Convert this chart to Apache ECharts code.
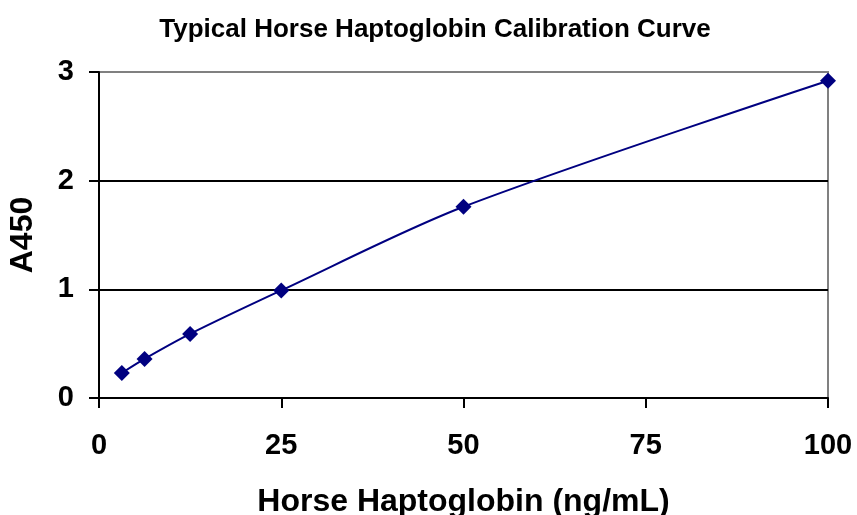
<!DOCTYPE html>
<html><head><meta charset="utf-8">
<script src="https://cdn.jsdelivr.net/npm/echarts@6/dist/echarts.min.js"></script>
<style>html,body{margin:0;padding:0;background:#fff}#c{width:857px;height:515px}</style>
</head><body><div id="c"></div>
<script>
const concentrations = [3.125, 6.25, 12.5, 25, 50, 100];
const absorbance = [0.23, 0.36, 0.59, 0.99, 1.76, 2.92];
const xTicks = [0, 25, 50, 75, 100];
const yTicks = [0, 1, 2, 3];
const titleText = 'Typical Horse Haptoglobin Calibration Curve';
const xTitle = 'Horse Haptoglobin (ng/mL)';
const yTitle = 'A450';

const font = 'Liberation Sans, Arial, sans-serif';
const chart = echarts.init(document.getElementById('c'));
chart.setOption({
  animation: false,
  title: { text: titleText, left: 430, top: 12, textAlign: 'center',
    textStyle: { fontFamily: font, fontWeight: 'bold', fontSize: 26, color: '#000' } },
  grid: { left: 99, right: 29, top: 72, bottom: 117, containLabel: false, outerBoundsMode: 'none',
    show: true, borderColor: '#808080', borderWidth: 2 },
  xAxis: { type: 'value', min: 0, max: 100, interval: 25,
    name: xTitle, nameLocation: 'middle', nameGap: 88,
    nameTextStyle: { fontFamily: font, fontWeight: 'bold', fontSize: 32, color: '#000' },
    axisLine: { show: true, onZero: false, lineStyle: { color: '#000', width: 2 } },
    axisTick: { show: true, inside: false, length: 10, lineStyle: { color: '#000', width: 2 } },
    axisLabel: { margin: 33, fontFamily: font, fontWeight: 'bold', fontSize: 29, color: '#000',
      formatter: v => xTicks.includes(v) ? String(v) : '' },
    splitLine: { show: false } },
  yAxis: { type: 'value', min: 0, max: 3, interval: 1,
    name: yTitle, nameLocation: 'middle', nameGap: 60, nameRotate: 90,
    nameTextStyle: { fontFamily: font, fontWeight: 'bold', fontSize: 32, color: '#000' },
    axisLine: { show: true, lineStyle: { color: '#000', width: 2 } },
    axisTick: { show: true, inside: false, length: 10, lineStyle: { color: '#000', width: 2 } },
    axisLabel: { margin: 25, padding: [6, 0, 0, 0], fontFamily: font, fontWeight: 'bold', fontSize: 29, color: '#000',
      formatter: v => yTicks.includes(v) ? String(v) : '' },
    splitLine: { show: true, lineStyle: { color: ['#000', '#000', '#000', '#808080'], width: 2 } } },
  series: [{
    type: 'line', smooth: 0.3,
    data: concentrations.map((c, i) => [c, absorbance[i]]),
    symbol: 'diamond', symbolSize: 16,
    lineStyle: { color: '#000080', width: 2 },
    itemStyle: { color: '#000080' }
  }]
});
</script></body></html>
